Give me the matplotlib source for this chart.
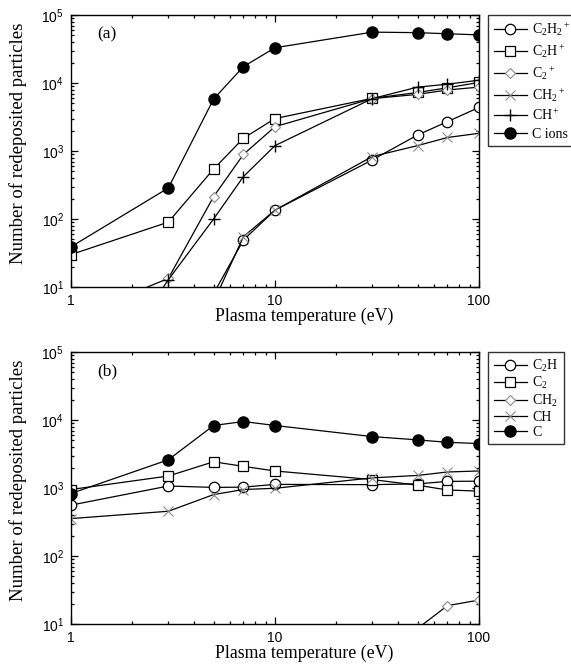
import numpy as np
import matplotlib
matplotlib.use('Agg')
import matplotlib.pyplot as plt
from matplotlib.ticker import FixedLocator, NullFormatter

plt.rcParams['font.family'] = ['Liberation Serif', 'DejaVu Serif']
plt.rcParams['mathtext.fontset'] = 'custom'
plt.rcParams['mathtext.rm'] = 'Liberation Serif'
plt.rcParams['mathtext.it'] = 'Liberation Serif:italic'
plt.rcParams['mathtext.sf'] = 'Liberation Sans'

nan = np.nan
temps = [1, 3, 5, 7, 10, 30, 50, 70, 100]

# panel (a): ions
c2h2_ion = [nan, nan, 8, 49, 135, 740, 1720, 2700, 4370]
c2h_ion = [30, 90, 543, 1540, 3000, 5960, 7250, 8500, 10200]
c2_ion = [3.4, 13.4, 213, 890, 2280, 5900, 6800, 7900, 8700]
ch2_ion = [nan, nan, 6, 55, 135, 830, 1200, 1580, 1820]
ch_ion = [0.1, 12.8, 100, 420, 1200, 5900, 8700, 9600, 11000]
c_ions = [39, 286, 5800, 17400, 33000, 56000, 55000, 53000, 51000]

# panel (b): neutrals
c2h_n = [560, 1070, 1020, 1030, 1130, 1120, 1150, 1250, 1260]
c2_n = [950, 1500, 2430, 2080, 1780, 1330, 1100, 935, 900]
ch2_n = [nan, nan, nan, nan, nan, nan, 8.6, 18.6, 22.5]
ch_n = [355, 455, 800, 950, 990, 1410, 1530, 1720, 1780]
c_n = [830, 2600, 8300, 9500, 8300, 5700, 5100, 4700, 4500]

labels_a = [r'C$_2$H$_2$$^+$', r'C$_2$H$^+$', r'C$_2$$^+$', r'CH$_2$$^+$', r'CH$^+$', 'C ions']
labels_b = [r'C$_2$H', r'C$_2$', r'CH$_2$', 'CH', 'C']

grey = '#8a8a8a'
st_circle = dict(marker='o', ms=7.5, mfc='white', mec='black', mew=0.9)
st_square = dict(marker='s', ms=7.5, mfc='white', mec='black', mew=0.9)
st_diamond = dict(marker='D', ms=5, mfc='white', mec=grey, mew=0.8)
st_cross = dict(marker='x', ms=7, mec=grey, mew=0.8)
st_plus = dict(marker='+', ms=8, mec='black', mew=1.0)
st_dot = dict(marker='o', ms=8, mfc='black', mec='black')

W, H = 571, 664
fig = plt.figure(figsize=(W / 100, H / 100), dpi=100)

def make_axes(top, bottom):
    return fig.add_axes([71 / W, 1 - bottom / H, (479 - 71) / W, (bottom - top) / H])

ax1 = make_axes(15, 287)
ax2 = make_axes(352, 624)

sets = [
    (ax1, [c2h2_ion, c2h_ion, c2_ion, ch2_ion, ch_ion, c_ions], labels_a,
     [st_circle, st_square, st_diamond, st_cross, st_plus, st_dot], '(a)', 0.33),
    (ax2, [c2h_n, c2_n, ch2_n, ch_n, c_n], labels_b,
     [st_circle, st_square, st_diamond, st_cross, st_dot], '(b)', 0.12),
]

for ax, series, labels, st, tag, lspace in sets:
    handles = []
    for vals, lab, s in zip(series, labels, st):
        h, = ax.plot(temps, vals, color='black', lw=0.9, label=lab, **s)
        handles.append(h)
    ax.set_xscale('log')
    ax.set_yscale('log')
    ax.set_xlim(1, 100)
    ax.set_ylim(10, 1e5)

    ax.xaxis.set_major_locator(FixedLocator([1, 10, 100]))
    ax.set_xticklabels(['1', '10', '100'], fontfamily='Liberation Sans', fontsize=10)
    ax.xaxis.set_minor_locator(FixedLocator([m * 10 ** d for d in range(2) for m in range(2, 10)]))
    ax.xaxis.set_minor_formatter(NullFormatter())
    ax.yaxis.set_major_locator(FixedLocator([10, 100, 1e3, 1e4, 1e5]))
    ax.set_yticklabels([r'$\mathsf{10^{%d}}$' % k for k in range(1, 6)], fontsize=10)
    ax.yaxis.set_minor_locator(FixedLocator([m * 10 ** d for d in range(1, 5) for m in range(2, 10)]))
    ax.yaxis.set_minor_formatter(NullFormatter())
    ax.tick_params(which='both', direction='in', top=True, right=True, width=0.9)
    ax.tick_params(which='major', length=5, pad=5)
    ax.tick_params(which='minor', length=2.5)
    for sp in ax.spines.values():
        sp.set_linewidth(1.0)

    ax.set_xlabel('Plasma temperature (eV)', fontsize=12.8)
    ax.xaxis.set_label_coords(0.571, -0.075)
    ax.set_ylabel('Number of redeposited particles', fontsize=13.5)
    ax.yaxis.set_label_coords(-0.108, 0.53)
    ax.text(0.064, 0.93, tag, transform=ax.transAxes, fontsize=12.5, va='center', ha='left')

    leg = ax.legend(handles=handles, loc='upper left', bbox_to_anchor=(1.022, 1.0),
                    frameon=True, fancybox=False, fontsize=10, handlelength=2.4,
                    handletextpad=0.4, borderpad=0.4, borderaxespad=0,
                    labelspacing=lspace)
    leg.get_frame().set_edgecolor('black')
    leg.get_frame().set_linewidth(1.0)

fig.savefig('out.png', dpi=100)
